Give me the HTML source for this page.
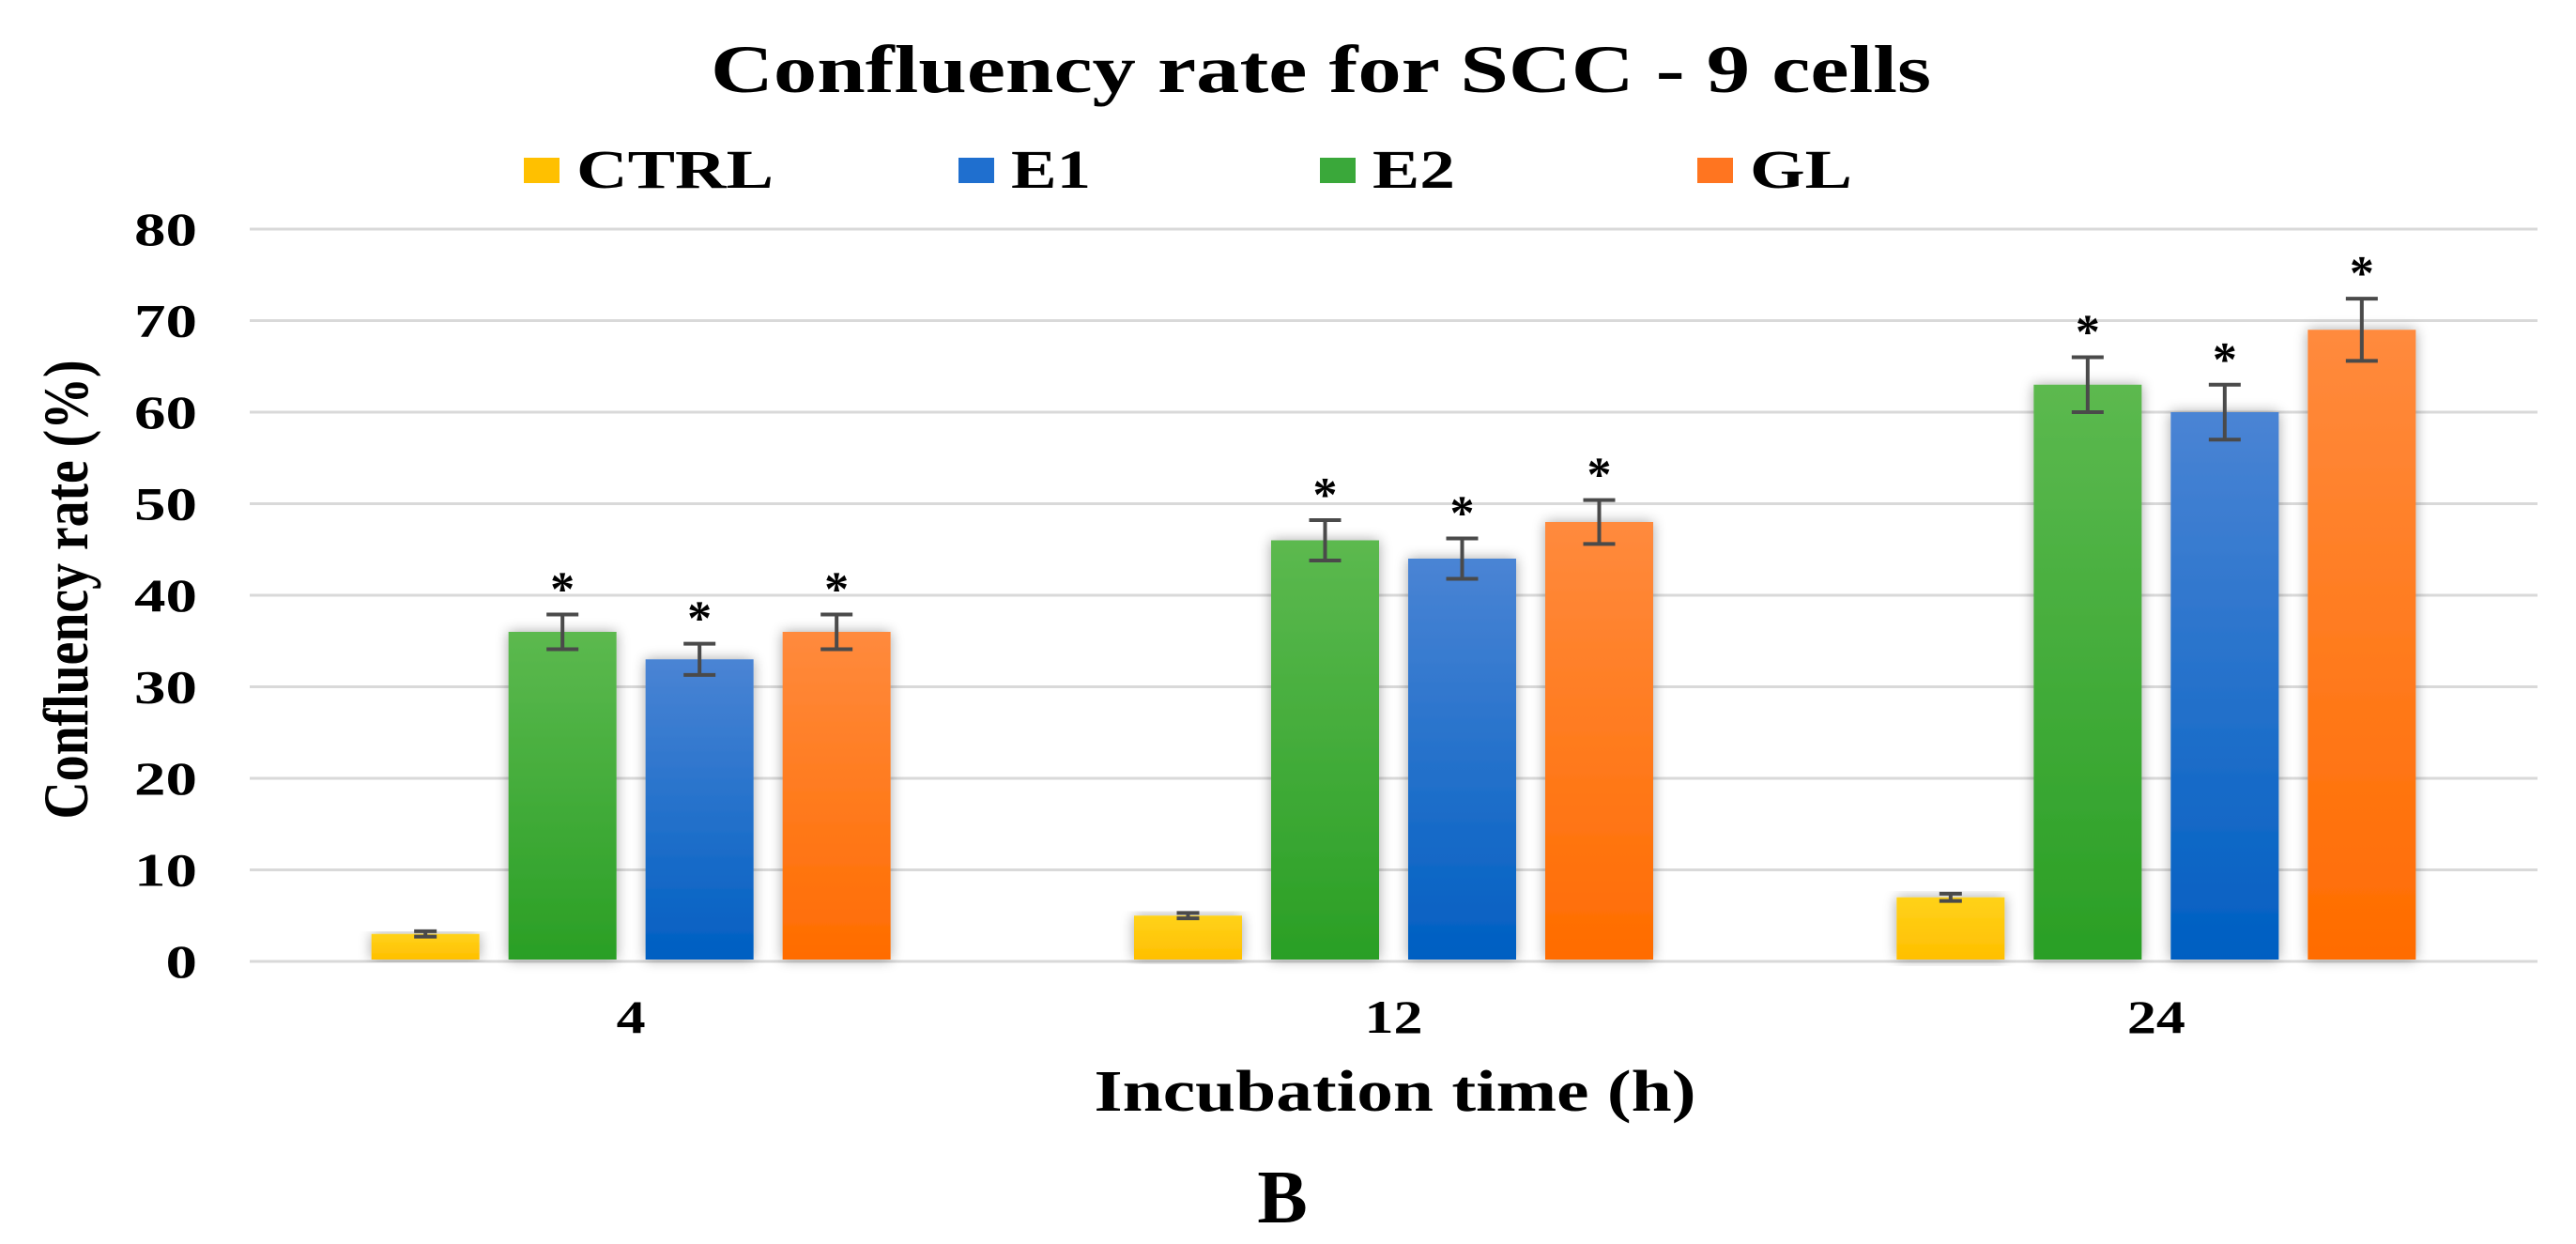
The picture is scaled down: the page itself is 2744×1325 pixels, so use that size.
<!DOCTYPE html>
<html><head><meta charset="utf-8"><style>
html,body{margin:0;padding:0;background:#fff;}
svg{display:block;font-family:"Liberation Serif",serif;font-weight:bold;}
</style></head><body>
<svg id="chart" width="2744" height="1325" viewBox="0 0 2744 1325" xmlns="http://www.w3.org/2000/svg">
<defs>
<linearGradient id="gCTRL" x1="0" y1="0" x2="0" y2="1"><stop offset="0" stop-color="#ffd21a"/><stop offset="1" stop-color="#ffbf00"/></linearGradient>
<linearGradient id="gE2" x1="0" y1="0" x2="0" y2="1"><stop offset="0" stop-color="#5cb94f"/><stop offset="1" stop-color="#2a9f25"/></linearGradient>
<linearGradient id="gE1" x1="0" y1="0" x2="0" y2="1"><stop offset="0" stop-color="#4a84d4"/><stop offset="1" stop-color="#005fc2"/></linearGradient>
<linearGradient id="gGL" x1="0" y1="0" x2="0" y2="1"><stop offset="0" stop-color="#ff8a3d"/><stop offset="1" stop-color="#ff6c00"/></linearGradient>
<filter id="sh" x="-20%" y="-10%" width="140%" height="120%"><feGaussianBlur in="SourceAlpha" stdDeviation="7"/><feOffset dx="0" dy="0"/><feComponentTransfer><feFuncA type="linear" slope="0.35"/></feComponentTransfer><feMerge><feMergeNode/><feMergeNode in="SourceGraphic"/></feMerge></filter>
</defs>
<text x="1407" y="98" text-anchor="middle" font-size="72" textLength="1300" lengthAdjust="spacingAndGlyphs">Confluency rate for SCC - 9 cells</text>
<g id="legend"></g>
<g id="grid"></g>
<g id="yticks"></g>
<g id="bars"></g>
<g id="xticks"></g>
<text transform="translate(93,628) rotate(-90)" text-anchor="middle" font-size="68" textLength="489" lengthAdjust="spacingAndGlyphs">Confluency rate (%)</text>
<text x="1486" y="1183" text-anchor="middle" font-size="62" textLength="641" lengthAdjust="spacingAndGlyphs">Incubation time (h)</text>
<text x="1366" y="1302" text-anchor="middle" font-size="80">B</text>
</svg>
<script>
const categories = ["4", "12", "24"];
const seriesNames = ["CTRL", "E2", "E1", "GL"];
const ctrlValues = [3, 5, 7];
const e2Values = [36, 46, 63];
const e1Values = [33, 44, 60];
const glValues = [36, 48, 69];
const ctrlErrors = [0.3, 0.3, 0.4];
const e2Errors = [1.9, 2.2, 3.0];
const e1Errors = [1.7, 2.2, 3.0];
const glErrors = [1.9, 2.4, 3.4];
const significant = [false, true, true, true];
const yTicks = [0, 10, 20, 30, 40, 50, 60, 70, 80];
const legendOrder = ["CTRL", "E1", "E2", "GL"];

const NS = "http://www.w3.org/2000/svg";
const plotL = 266, plotR = 2703, y0 = 1024, yMax = 80, pxPer = 9.75;
const y = v => y0 - v * pxPer;
const catW = (plotR - plotL) / categories.length;
const xc = i => plotL + catW * (i + 0.5);
const barW = 115, step = 146;
function mk(tag, attrs, parent){const e=document.createElementNS(NS,tag);for(const k in attrs)e.setAttribute(k,attrs[k]);parent.appendChild(e);return e;}

const grid = document.getElementById('grid');
const yt = document.getElementById('yticks');
yTicks.forEach(t=>{
  const l = mk('line',{x1:plotL,x2:plotR,y1:y(t),y2:y(t),stroke:'#d9d9d9','stroke-width':3},grid);
  
  
  const s = String(t);
  const tx = mk('text',{x:210,y:y(t)+17,'text-anchor':'end','font-size':50,textLength:s.length*33.5,lengthAdjust:'spacingAndGlyphs'},yt);
  tx.textContent = s;
  
  
});

const vals = [ctrlValues, e2Values, e1Values, glValues];
const errs = [ctrlErrors, e2Errors, e1Errors, glErrors];
const bars = document.getElementById('bars');
categories.forEach((c,i)=>{
  seriesNames.forEach((s,j)=>{
    const v = vals[j][i], e = errs[j][i];
    const cx = xc(i) + (j - 1.5) * step;
    const r = mk('rect',{x:cx-barW/2,y:y(v),width:barW,height:y0-y(v)-2,fill:'url(#g'+s+')',filter:'url(#sh)'},bars);
    
    
    const g = mk('g',{stroke:'#4a4a4a','stroke-width':4},bars);
    
    
    const hw = j===0 ? 12 : 17;
    mk('line',{x1:cx,x2:cx,y1:y(v+e),y2:y(v-e)},g);
    mk('line',{x1:cx-hw,x2:cx+hw,y1:y(v+e),y2:y(v+e)},g);
    mk('line',{x1:cx-hw,x2:cx+hw,y1:y(v-e),y2:y(v-e)},g);
    if(significant[j]){
      const a = mk('text',{x:cx,y:y(v+e)-10,'text-anchor':'middle','font-size':52},bars);
      a.textContent='*';
      
      
    }
  });
});
const xt = document.getElementById('xticks');
categories.forEach((c,i)=>{
  const t = mk('text',{x:xc(i),y:1100,'text-anchor':'middle','font-size':50,textLength:c.length*31,lengthAdjust:'spacingAndGlyphs'},xt);
  t.textContent=c;
  
  
});

const legend = document.getElementById('legend');
const legSq = [558, 1021, 1406, 1808];
const legCol = {CTRL:'#ffc000',E1:'#1f6fcf',E2:'#3aa83a',GL:'#ff7520'};
const legW = {CTRL:210,E1:85,E2:88,GL:109};
legendOrder.forEach((s,k)=>{
  const sq = mk('rect',{x:legSq[k],y:168,width:38,height:27,fill:legCol[s]},legend);
  
  
  const t = mk('text',{x:legSq[k]+56,y:200,'font-size':58,textLength:legW[s],lengthAdjust:'spacingAndGlyphs'},legend);
  t.textContent=s;
  
  
});
</script>
</body></html>
